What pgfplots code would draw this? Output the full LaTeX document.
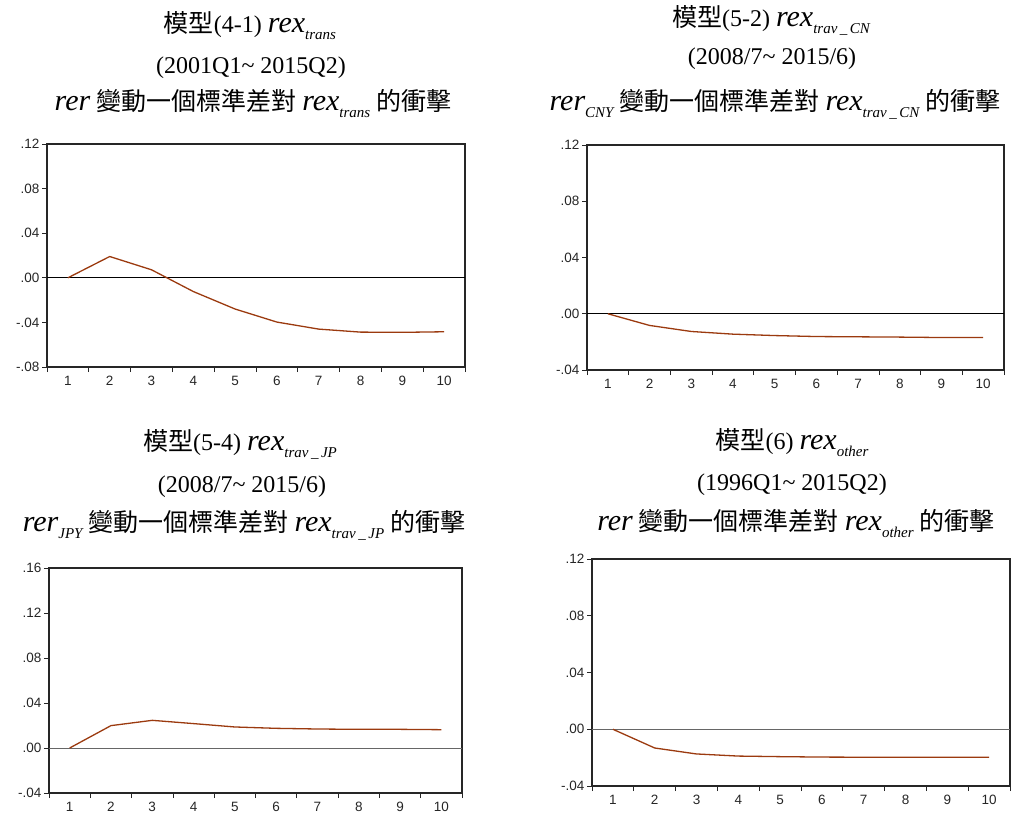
\documentclass[border=0pt]{standalone}
\usepackage{pgfplots}
\pgfplotsset{compat=1.18}
\usepackage{fontspec}
\setmainfont{Liberation Serif}
\newfontfamily\cjk{Noto Sans CJK TC}
\newfontfamily\tickfont{Liberation Sans}
\definecolor{irf}{RGB}{155,58,15}

\newcommand{\tvar}[1]{{\fontsize{30}{30}\selectfont\itshape #1}}
\newcommand{\tsub}[1]{\raisebox{-7pt}{\fontsize{15}{15}\selectfont\itshape #1}}
\newcommand{\tcjk}[1]{{\fontsize{25}{25}\selectfont\cjk #1}}
\newcommand{\tlat}[1]{{\fontsize{24}{24}\selectfont #1}}

\pgfplotsset{irfax/.style={
  scale only axis, anchor=north west,
  xmin=0.5, xmax=10.5,
  xtick={0.5,1.5,2.5,3.5,4.5,5.5,6.5,7.5,8.5,9.5,10.5},
  xticklabels={1,2,3,4,5,6,7,8,9,10},
  x tick label as interval,
  tick align=outside, tick pos=left,
  major tick length=5pt,
  axis line style={line width=1.1pt, black!85},
  every tick/.style={black!85, line width=0.8pt},
  ticklabel style={font=\tickfont\fontsize{13.5}{15}\selectfont, text=black!85},
  xticklabel style={yshift=-1pt},
  yticklabel style={xshift=1pt},
}}
\tikzset{ttl/.style={anchor=base, inner sep=0pt, font=\fontsize{24}{24}\selectfont}}

\begin{document}
\begin{tikzpicture}[x=1pt,y=1pt]
\useasboundingbox (0,0) rectangle (1011,-815);

% ---------- Panel 1 ----------
\node[ttl] at (250,-32) {\tcjk{模型}(4-1) \tvar{rex}\tsub{trans}};
\node[ttl] at (251,-73) {(2001Q1\textasciitilde\ 2015Q2)};
\node[ttl] at (253,-110) {\tvar{rer} \tcjk{變動一個標準差對} \tvar{rex}\tsub{trans} \tcjk{的衝擊}};
\begin{axis}[irfax, at={(47pt,-144pt)}, width=418pt, height=223pt,
  ymin=-0.08, ymax=0.12,
  ytick={-0.08,-0.04,0,0.04,0.08,0.12},
  yticklabels={-.08,-.04,.00,.04,.08,.12}]
\addplot[black, line width=0.8pt, forget plot] coordinates {(0.5,0) (10.5,0)};
\addplot[irf, line width=1.3pt] coordinates {
(1,0) (2,0.0191) (3,0.0072) (4,-0.0123) (5,-0.0280) (6,-0.0397) (7,-0.0460) (8,-0.0487) (9,-0.0489) (10,-0.0484)};
\end{axis}

% ---------- Panel 2 ----------
\node[ttl] at (771,-26) {\tcjk{模型}(5-2) \tvar{rex}\tsub{trav\,\_\,CN}};
\node[ttl] at (772,-64) {(2008/7\textasciitilde\ 2015/6)};
\node[ttl] at (775,-110) {\tvar{rer}\tsub{CNY} \tcjk{變動一個標準差對} \tvar{rex}\tsub{trav\,\_\,CN} \tcjk{的衝擊}};
\begin{axis}[irfax, at={(587pt,-145pt)}, width=417pt, height=225pt,
  ymin=-0.04, ymax=0.12,
  ytick={-0.04,0,0.04,0.08,0.12},
  yticklabels={-.04,.00,.04,.08,.12}]
\addplot[black, line width=0.8pt, forget plot] coordinates {(0.5,0) (10.5,0)};
\addplot[irf, line width=1.3pt] coordinates {
(1,0) (2,-0.0083) (3,-0.0126) (4,-0.0145) (5,-0.0155) (6,-0.0162) (7,-0.0164) (8,-0.0166) (9,-0.0169) (10,-0.0169)};
\end{axis}

% ---------- Panel 3 ----------
\node[ttl] at (240,-450) {\tcjk{模型}(5-4) \tvar{rex}\tsub{trav\,\_\,JP}};
\node[ttl] at (242,-492) {(2008/7\textasciitilde\ 2015/6)};
\node[ttl] at (244,-531) {\tvar{rer}\tsub{JPY} \tcjk{變動一個標準差對} \tvar{rex}\tsub{trav\,\_\,JP} \tcjk{的衝擊}};
\begin{axis}[irfax, at={(49pt,-568pt)}, width=413pt, height=225pt,
  ymin=-0.04, ymax=0.16,
  ytick={-0.04,0,0.04,0.08,0.12,0.16},
  yticklabels={-.04,.00,.04,.08,.12,.16}]
\addplot[black!60, line width=0.8pt, forget plot] coordinates {(0.5,0) (10.5,0)};
\addplot[irf, line width=1.3pt] coordinates {
(1,0) (2,0.0199) (3,0.0246) (4,0.0217) (5,0.0187) (6,0.0175) (7,0.0169) (8,0.0166) (9,0.0166) (10,0.0163)};
\end{axis}

% ---------- Panel 4 ----------
\node[ttl] at (792,-449) {\tcjk{模型}(6) \tvar{rex}\tsub{other}};
\node[ttl] at (792,-490) {(1996Q1\textasciitilde\ 2015Q2)};
\node[ttl] at (796,-530) {\tvar{rer} \tcjk{變動一個標準差對} \tvar{rex}\tsub{other} \tcjk{的衝擊}};
\begin{axis}[irfax, at={(592pt,-559pt)}, width=418pt, height=227pt,
  ymin=-0.04, ymax=0.12,
  ytick={-0.04,0,0.04,0.08,0.12},
  yticklabels={-.04,.00,.04,.08,.12}]
\addplot[black!60, line width=0.8pt, forget plot] coordinates {(0.5,0) (10.5,0)};
\addplot[irf, line width=1.3pt] coordinates {
(1,0) (2,-0.0132) (3,-0.0174) (4,-0.0189) (5,-0.0193) (6,-0.0196) (7,-0.0197) (8,-0.0197) (9,-0.0197) (10,-0.0197)};
\end{axis}
\end{tikzpicture}
\end{document}
